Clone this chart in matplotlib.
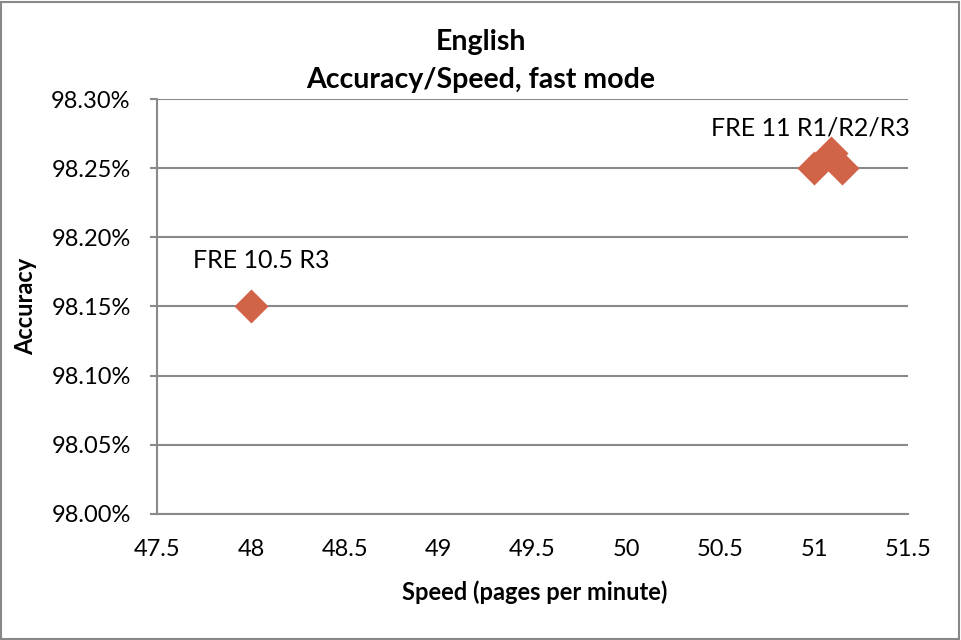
import matplotlib
matplotlib.use('Agg')
from matplotlib import pyplot as plt
from matplotlib.patches import Rectangle
from matplotlib.ticker import FuncFormatter

# data
speed = [48.0, 51.0, 51.09, 51.15]
accuracy = [98.15, 98.25, 98.261, 98.25]
labels = ['FRE 10.5 R3', 'FRE 11 R1/R2/R3']
label_pos = [(47.69, 98.183), (50.45, 98.279)]

plt.rcParams['font.family'] = ['Lato', 'DejaVu Sans']

fig = plt.figure(figsize=(9.61, 6.4), dpi=100)
ax = fig.add_axes([0.1634, 0.1969, 0.7814, 0.6484])

grey = '#898989'
ax.scatter(speed, accuracy, marker='D', s=300, color='#D16349', linewidths=0, zorder=3)

ax.set_xlim(47.5, 51.5)
ax.set_ylim(98.0, 98.3)
ax.set_xticks([47.5, 48, 48.5, 49, 49.5, 50, 50.5, 51, 51.5])
ax.set_xticklabels(['47.5', '48', '48.5', '49', '49.5', '50', '50.5', '51', '51.5'])
ax.set_yticks([98.0, 98.05, 98.1, 98.15, 98.2, 98.25, 98.3])
ax.yaxis.set_major_formatter(FuncFormatter(lambda v, p: '%.2f%%' % v))
ax.grid(axis='y', color=grey, linewidth=1.5)
ax.set_axisbelow(True)

for side in ['top', 'right']:
    ax.spines[side].set_visible(False)
for side in ['left', 'bottom']:
    ax.spines[side].set_color(grey)
    ax.spines[side].set_linewidth(1.5)
ax.tick_params(axis='x', length=0, pad=18, labelsize=17)
ax.tick_params(axis='y', length=5, color=grey, width=1.5, pad=14, labelsize=17)

for txt, (x, y) in zip(labels, label_pos):
    ax.text(x, y, txt, fontsize=18, ha='left', va='center')

ax.set_xlabel('Speed (pages per minute)', fontsize=17, fontweight='bold')
ax.xaxis.set_label_coords(0.503, -0.16)
ax.set_ylabel('Accuracy', fontsize=17, fontweight='bold')
ax.yaxis.set_label_coords(-0.16, 0.5)
fig.text(0.5, 0.934, 'English', fontsize=20.5, fontweight='bold', ha='center', va='center')
fig.text(0.5, 0.875, 'Accuracy/Speed, fast mode', fontsize=20.5, fontweight='bold', ha='center', va='center')

fig.patches.append(Rectangle((0.001, 0.002), 0.997, 0.995, transform=fig.transFigure,
                             fill=False, edgecolor=grey, linewidth=1.5))

fig.savefig('out.png', dpi=100)
